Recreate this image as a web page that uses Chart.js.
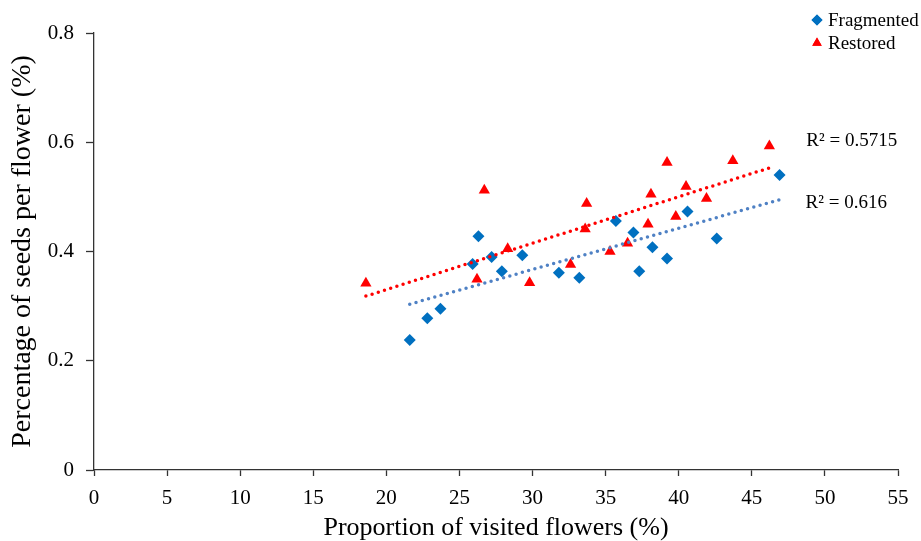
<!DOCTYPE html>
<html>
<head>
<meta charset="utf-8">
<script src="https://cdn.jsdelivr.net/npm/chart.js@4"></script>
<style>
  html, body { margin: 0; padding: 0; background: #fff; }
  #wrap { width: 921px; height: 541px; position: relative; }
</style>
</head>
<body>
<div id="wrap"><canvas id="seedChart"></canvas></div>
<script>
// visited flowers (%) vs seeds per flower
const fragmentedX = [21.6, 22.8, 23.7, 25.9, 26.3, 27.2, 27.9, 29.3, 31.8, 33.2, 35.7, 36.9, 37.3, 38.2, 39.2, 40.6, 42.6, 46.9];
const fragmentedY = [0.238, 0.278, 0.295, 0.377, 0.428, 0.390, 0.364, 0.393, 0.361, 0.352, 0.456, 0.435, 0.364, 0.408, 0.387, 0.473, 0.424, 0.540];
const restoredX = [18.6, 26.7, 26.2, 28.3, 29.8, 32.6, 33.7, 33.6, 35.3, 36.5, 37.9, 38.1, 39.2, 39.8, 40.5, 41.9, 43.7, 46.2];
const restoredY = [0.342, 0.512, 0.349, 0.405, 0.343, 0.376, 0.488, 0.441, 0.400, 0.415, 0.450, 0.505, 0.563, 0.464, 0.519, 0.497, 0.566, 0.593];
const seriesNames = ['Fragmented', 'Restored'];
const r2Labels = ['R² = 0.616', 'R² = 0.5715'];
const xTicks = [0, 5, 10, 15, 20, 25, 30, 35, 40, 45, 50, 55];
const yTicks = [0, 0.2, 0.4, 0.6, 0.8];

const BLUE = '#0070C0';
const TREND_BLUE = '#4F81C4';
const RED = '#FF0000';
const SERIF = '"Liberation Serif", "DejaVu Serif", serif';

function toPoints(xs, ys) {
    return xs.map((x, i) => ({ x: x, y: ys[i] }));
}

// least squares line, drawn between the min and max x like Excel does
function trendPoints(xs, ys) {
    const n = xs.length;
    const mx = xs.reduce((a, b) => a + b, 0) / n;
    const my = ys.reduce((a, b) => a + b, 0) / n;
    let sxy = 0, sxx = 0;
    for (let i = 0; i < n; i++) {
        sxy += (xs[i] - mx) * (ys[i] - my);
        sxx += (xs[i] - mx) * (xs[i] - mx);
    }
    const slope = sxy / sxx;
    const icpt = my - slope * mx;
    const x0 = Math.min(...xs), x1 = Math.max(...xs);
    return [{ x: x0, y: icpt + slope * x0 }, { x: x1, y: icpt + slope * x1 }];
}

const fragTrend = trendPoints(fragmentedX, fragmentedY);
const restTrend = trendPoints(restoredX, restoredY);

const extrasPlugin = {
    id: 'extras',
    afterDatasetsDraw(chart) {
        const ctx = chart.ctx;
        const xs = chart.scales.x, ys = chart.scales.y;
        ctx.save();
        // legend, top right
        ctx.font = '19px ' + SERIF;
        ctx.textBaseline = 'middle';
        const legendX = 817;
        const rows = [
            { name: seriesNames[0], style: 'rectRot', color: BLUE, y: 20 },
            { name: seriesNames[1], style: 'triangle', color: RED, y: 43 }
        ];
        rows.forEach(r => {
            ctx.fillStyle = r.color;
            ctx.strokeStyle = r.color;
            Chart.helpers.drawPoint(ctx, { pointStyle: r.style, radius: 5.5, borderWidth: 0 }, legendX, r.y);
            ctx.fill();
            ctx.fillStyle = '#000';
            ctx.fillText(r.name, legendX + 11, r.y + 1);
        });
        // R² labels next to the trend line ends
        ctx.font = '19px ' + SERIF;
        ctx.fillStyle = '#000';
        const fEnd = fragTrend[1], rEnd = restTrend[1];
        ctx.fillText(r2Labels[0], xs.getPixelForValue(fEnd.x) + 26, ys.getPixelForValue(fEnd.y) + 3);
        ctx.fillText(r2Labels[1], xs.getPixelForValue(rEnd.x) + 37, ys.getPixelForValue(rEnd.y) - 27);
        ctx.restore();
    }
};

const ctx = document.getElementById('seedChart');
new Chart(ctx, {
    type: 'scatter',
    data: {
        datasets: [{
            label: seriesNames[0] + ' trend',
            type: 'line',
            data: fragTrend,
            borderColor: TREND_BLUE,
            borderWidth: 3.5,
            borderDash: [0, 6.5],
            borderCapStyle: 'round',
            pointRadius: 0,
            fill: false
        }, {
            label: seriesNames[1] + ' trend',
            type: 'line',
            data: restTrend,
            borderColor: RED,
            borderWidth: 3.5,
            borderDash: [0, 6.5],
            borderCapStyle: 'round',
            pointRadius: 0,
            fill: false
        }, {
            label: seriesNames[0],
            data: toPoints(fragmentedX, fragmentedY),
            pointStyle: 'rectRot',
            pointRadius: 6,
            backgroundColor: BLUE,
            borderColor: BLUE,
            borderWidth: 0
        }, {
            label: seriesNames[1],
            data: toPoints(restoredX, restoredY),
            pointStyle: 'triangle',
            pointRadius: 6.5,
            backgroundColor: RED,
            borderColor: RED,
            borderWidth: 0
        }]
    },
    options: {
        responsive: true,
        maintainAspectRatio: false,
        animation: false,
        layout: { padding: { top: 33, right: 23, left: 0, bottom: 0 } },
        plugins: {
            legend: { display: false },
            tooltip: { enabled: false }
        },
        scales: {
            x: {
                type: 'linear',
                min: 0,
                max: 55,
                afterBuildTicks: (axis) => { axis.ticks = xTicks.map(v => ({ value: v })); },
                afterFit: (axis) => { axis.height = 71; },
                border: { display: true, color: '#333', width: 1.3 },
                grid: { display: true, drawOnChartArea: false, drawTicks: true, tickLength: 6, tickColor: '#333', tickWidth: 1.3 },
                ticks: {
                    color: '#000',
                    font: { family: SERIF, size: 21 },
                    padding: 10,
                    maxRotation: 0
                },
                title: {
                    display: true,
                    text: 'Proportion of visited flowers (%)',
                    color: '#000',
                    font: { family: SERIF, size: 26, lineHeight: 1.0 },
                    padding: { top: 0, bottom: 0 }
                }
            },
            y: {
                type: 'linear',
                min: 0,
                max: 0.8,
                afterBuildTicks: (axis) => { axis.ticks = yTicks.map(v => ({ value: v })); },
                afterFit: (axis) => { axis.width = 94; },
                border: { display: true, color: '#333', width: 1.3 },
                grid: { display: true, drawOnChartArea: false, drawTicks: true, tickLength: 8, tickColor: '#333', tickWidth: 1.3 },
                ticks: {
                    color: '#000',
                    font: { family: SERIF, size: 21 },
                    padding: 12,
                    callback: (v) => String(Math.round(v * 10) / 10)
                },
                title: {
                    display: true,
                    text: 'Percentage of seeds per flower (%)',
                    color: '#000',
                    font: { family: SERIF, size: 28 },
                    padding: { top: 6, bottom: 0 }
                }
            }
        }
    },
    plugins: [extrasPlugin]
});
</script>
</body>
</html>
